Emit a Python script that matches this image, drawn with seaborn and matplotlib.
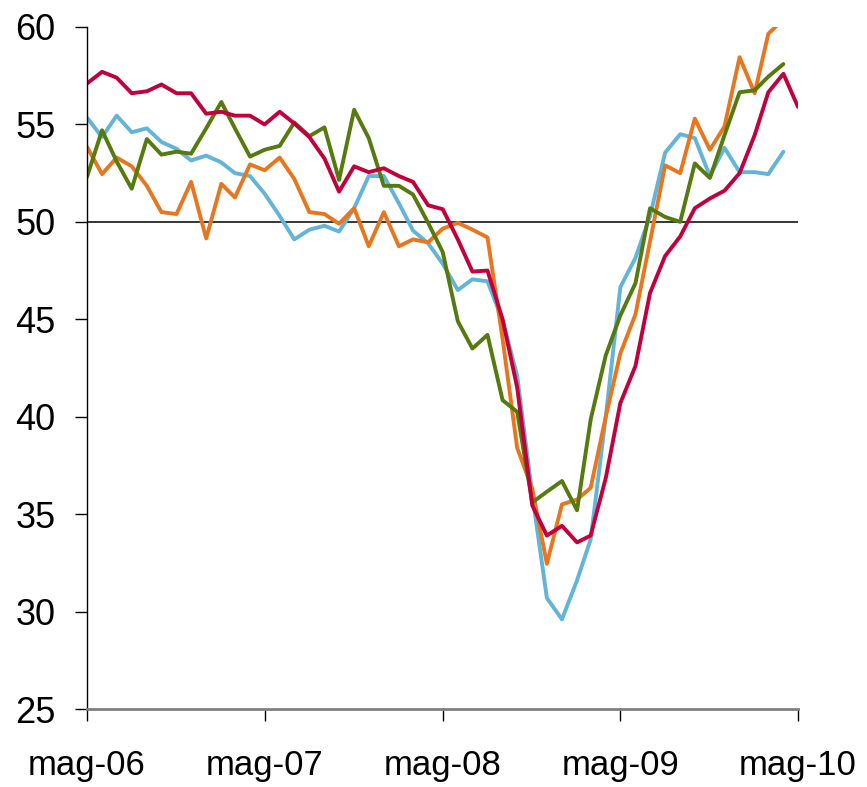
import seaborn as sns
import matplotlib.pyplot as plt
import pandas as pd

# monthly index values, May 2006 onwards
months = pd.date_range("2006-05-01", periods=49, freq="MS")

red = [57.1, 57.7, 57.4, 56.6, 56.7, 57.05, 56.6, 56.6, 55.55, 55.65, 55.45, 55.45,
       55.0, 55.65, 55.05, 54.35, 53.25, 51.55, 52.85, 52.55, 52.75, 52.35, 52.05, 50.85,
       50.65, 49.1, 47.45, 47.5, 45.0, 41.5, 35.45, 33.9, 34.4, 33.55, 33.9, 36.85,
       40.7, 42.6, 46.35, 48.25, 49.25, 50.7, 51.2, 51.6, 52.5, 54.45, 56.65, 57.6, 55.9]
green = [52.3, 54.7, 53.1, 51.7, 54.25, 53.45, 53.6, 53.5, 54.8, 56.15, 54.8, 53.35,
         53.7, 53.9, 55.1, 54.4, 54.85, 52.15, 55.75, 54.3, 51.85, 51.85, 51.4, 49.95,
         48.45, 44.9, 43.5, 44.2, 40.85, 40.25, 35.6, 36.15, 36.7, 35.2, 39.85, 43.15,
         45.2, 46.85, 50.7, 50.25, 50.0, 53.0, 52.25, 54.45, 56.65, 56.75, 57.45, 58.1]
orange = [53.85, 52.45, 53.3, 52.85, 51.85, 50.5, 50.4, 52.05, 49.15, 51.95, 51.25, 52.95,
          52.65, 53.3, 52.2, 50.5, 50.4, 49.9, 50.7, 48.75, 50.5, 48.75, 49.1, 48.95,
          49.65, 49.95, 49.6, 49.2, 44.0, 38.4, 36.3, 32.45, 35.5, 35.75, 36.35, 40.0,
          43.25, 45.25, 49.0, 52.9, 52.5, 55.3, 53.7, 54.9, 58.45, 56.6, 59.65, 60.4]
blue = [55.35, 54.35, 55.45, 54.6, 54.8, 54.1, 53.75, 53.15, 53.4, 53.05, 52.5, 52.35,
        51.45, 50.3, 49.1, 49.6, 49.8, 49.5, 50.7, 52.35, 52.35, 50.95, 49.55, 48.9,
        47.85, 46.5, 47.05, 46.95, 44.95, 42.1, 36.0, 30.7, 29.6, 31.6, 33.7, 40.0,
        46.65, 48.15, 50.3, 53.55, 54.5, 54.3, 52.35, 53.8, 52.55, 52.55, 52.45, 53.6]

tick_dates = pd.to_datetime(["2006-05-01", "2007-05-01", "2008-05-01", "2009-05-01", "2010-05-01"])
tick_labels = ["mag-06", "mag-07", "mag-08", "mag-09", "mag-10"]

series = {"blue": blue, "orange": orange, "green": green, "red": red}
colors = {"blue": "#62B4D8", "orange": "#E8761E", "green": "#557A0E", "red": "#C2003C"}

frames = []
for name, vals in series.items():
    frames.append(pd.DataFrame({"month": months[:len(vals)], "value": vals, "serie": name}))
df = pd.concat(frames, ignore_index=True)

sns.set_style("white")
plt.rcParams["font.family"] = ["Liberation Sans", "DejaVu Sans"]

fig = plt.figure(figsize=(8.67, 7.87), dpi=100)
ax = fig.add_axes([0.1003, 0.0991, 0.8201, 0.8666])

sns.lineplot(data=df, x="month", y="value", hue="serie", palette=colors,
             linewidth=2.8, legend=False, ax=ax)
ax.axhline(50, color="black", linewidth=1.1, zorder=1)

ax.set_xlim(tick_dates[0], tick_dates[-1])
ax.set_ylim(25, 60)
ax.set_yticks(range(25, 61, 5))
ax.set_xticks(tick_dates)
ax.set_xticklabels(tick_labels)
ax.set_xlabel("")
ax.set_ylabel("")

ax.tick_params(axis="y", direction="out", length=8.6, width=1, color="black",
               labelcolor="black", labelsize=26, pad=14, left=True)
ax.tick_params(axis="x", direction="out", length=8.6, width=1, color="black",
               labelcolor="black", labelsize=25, pad=20, bottom=True)

for side in ["top", "right"]:
    ax.spines[side].set_visible(False)
ax.spines["left"].set_color("black")
ax.spines["left"].set_linewidth(1)
ax.spines["bottom"].set_color("#808080")
ax.spines["bottom"].set_linewidth(2)

fig.savefig("out.png", dpi=100)
